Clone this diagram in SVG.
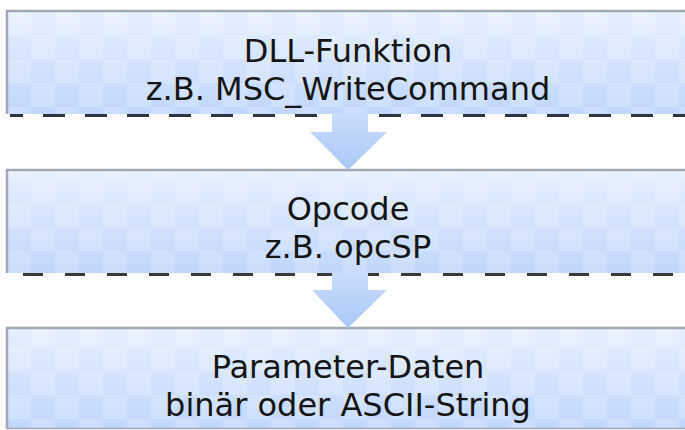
<svg xmlns="http://www.w3.org/2000/svg" width="685" height="430" viewBox="0 0 685 430">
  <style>
    .lbl { font-family: "DejaVu Sans", "Open Sans", sans-serif; font-size: 32px; fill: #151515; text-anchor: middle; }
    .box { fill: url(#boxGrad); }
    .chk { fill: url(#checker); }
    .edge { stroke: #a3a9b2; stroke-width: 2.5; fill: none; }
    .dashA { stroke: #2f3540; stroke-width: 3; stroke-dasharray: 22 20; stroke-dashoffset: 9; fill: none; }
    .dashB { stroke: #3a3a3a; stroke-width: 3; stroke-dasharray: 20 22; fill: none; }
    .arrow { fill: url(#arrowGrad); }
  </style>
  <defs>
    <linearGradient id="boxGrad" x1="0" y1="0" x2="0" y2="1">
      <stop offset="0" stop-color="#e6f0fe"/>
      <stop offset="1" stop-color="#c0d6fb"/>
    </linearGradient>
    <linearGradient id="arrowGrad" x1="0" y1="0" x2="0" y2="1">
      <stop offset="0" stop-color="#c9dcfb"/>
      <stop offset="1" stop-color="#aac8f6"/>
    </linearGradient>
    <pattern id="checker" x="7" y="11" width="48" height="48" patternUnits="userSpaceOnUse">
      <rect x="0" y="0" width="24" height="24" fill="#ffffff" opacity="0.18"/>
      <rect x="24" y="24" width="24" height="24" fill="#ffffff" opacity="0.18"/>
    </pattern>
  </defs>

  <rect width="685" height="430" fill="#ffffff"/>

  <g id="node-dll">
    <rect class="box" x="7" y="11" width="680" height="103"/>
    <rect class="chk" x="7" y="11" width="680" height="103"/>
    <path class="edge" d="M7 114 V11 H686"/>
    <text class="lbl" x="348" y="62">DLL-Funktion</text>
    <text class="lbl" x="348" y="100">z.B. MSC_WriteCommand</text>
  </g>

  <g id="node-opcode">
    <rect class="box" x="7" y="170" width="680" height="103"/>
    <rect class="chk" x="7" y="170" width="680" height="103"/>
    <path class="edge" d="M7 273 V170 H686"/>
    <text class="lbl" x="348" y="220">Opcode</text>
    <text class="lbl" x="348" y="258">z.B. opcSP</text>
  </g>

  <g id="node-param">
    <rect class="box" x="7" y="328" width="680" height="101"/>
    <rect class="chk" x="7" y="328" width="680" height="101"/>
    <path class="edge" d="M7 429 V328 H686"/>
    <path d="M7 428.5 H686" stroke="#a3a9b2" stroke-width="1.5"/>
    <text class="lbl" x="348" y="378">Parameter-Daten</text>
    <text class="lbl" x="348" y="416">binär oder ASCII-String</text>
  </g>

  <g id="connectors">
    <line class="dashA" x1="10" y1="115.5" x2="685" y2="115.5"/>
    <line class="dashB" x1="23" y1="274.5" x2="685" y2="274.5"/>
    <path class="arrow" d="M332 114 H368 V132 H387 L348 170 L310 132 H332 Z"/>
    <path class="arrow" d="M332 273 H368 V290 H387 L348 328 L312 290 H332 Z"/>
  </g>
</svg>
